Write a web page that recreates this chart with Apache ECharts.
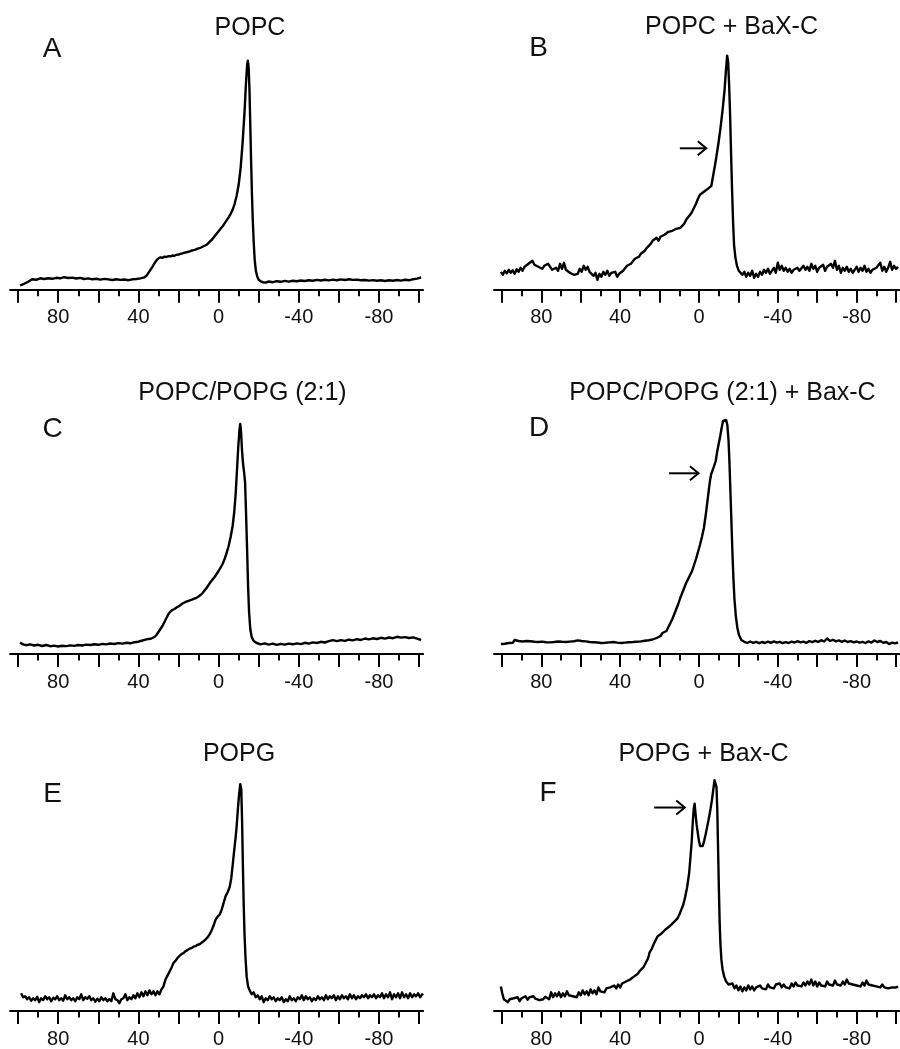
<!DOCTYPE html>
<html>
<head>
<meta charset="utf-8">
<script src="https://cdn.jsdelivr.net/npm/echarts@6.0.0/dist/echarts.min.js"></script>
<style>
  html, body { margin: 0; padding: 0; background: #fff; }
  #chart { width: 900px; height: 1049px; }
</style>
</head>
<body>
<div id="chart"></div>
<script>
// 31P NMR spectra, chemical shift (ppm) vs. intensity (arbitrary units)

const panelTitles = ['POPC', 'POPC + BaX-C', 'POPC/POPG (2:1)', 'POPC/POPG (2:1) + Bax-C', 'POPG', 'POPG + Bax-C'];
const panelLetters = ['A', 'B', 'C', 'D', 'E', 'F'];

const majorTicks = [-100, -80, -60, -40, -20, 0, 20, 40, 60, 80, 100];
const minorTicks = [-90, -70, -50, -30, -10, 10, 30, 50, 70, 90];
const tickLabels = [80, 40, 0, -40, -80];

const popc = [
  [99,4.3],[97,6],[95,8],[93,10.5],[91,10],[89,11.5],[87,10.8],[85,11.6],[83,11],[81,12],[79,11.5],[77,12.6],[75,11.8],
  [73,12.2],[71,11.3],[69,11.9],[67,10.8],[65,11.4],[63,10.5],[61,11],[59,10.2],[57,10.9],[55,10.4],[53,9.8],[51,10.6],
  [49,9.9],[47,10.3],[45,9.6],[43,10.5],[41,10.8],[39,11.4],[37,12.5],[36,14],[35,17],[34,20],[33,23],[32,26.5],[31,29.5],
  [30,31.5],[29,32.5],[28,32],[27,33.2],[26,32.8],[25,33.6],[24,33.4],[23,34.3],[22,34],[21,35],[20,35.2],[19,36],[18,36.4],
  [17,37.2],[16,37.6],[15,38],[14,38.8],[13,39.5],[12,40],[11,40.6],[10,41.5],[9,42],[8,43],[7,44],[6,45],[5,47],[4,49],
  [3,51],[2,53.5],[1,56],[0,58.5],[-1,61],[-2,63.5],[-3,66.5],[-4,69.5],[-5,72.5],[-6,76],[-7,80],[-8,86],[-9,94],[-10,105],
  [-11,122],[-12,148],[-13,180],[-13.6,205],[-14.2,224],[-14.6,229],[-15,222],[-15.4,200],[-15.8,165],[-16.2,130],[-16.6,98],
  [-17,72],[-17.5,48],[-18,30],[-18.6,19],[-19.3,13],[-20,10],[-21,8.5],[-22,7.6],[-23.5,7.2],[-25,8.3],[-27,7.6],[-29,8.6],
  [-31,8],[-33,8.9],[-35,8.2],[-37,9],[-39,8.5],[-41,9.3],[-43,8.8],[-45,9.6],[-47,9.1],[-49,9.9],[-51,9.3],[-53,10],
  [-55,9.4],[-57,10.2],[-59,9.6],[-61,10.4],[-63,9.8],[-65,10.6],[-67,9.9],[-69,10.2],[-71,9.5],[-73,9.8],[-75,9.2],[-77,9.7],
  [-79,9],[-81,9.5],[-83,8.8],[-85,9.6],[-87,9.1],[-89,9.8],[-91,9.2],[-93,10],[-95,9.5],[-97,10.6],[-99,11.2],[-101,12.4]
];

const popcBax = [
  [100.5,18],[99.5,15],[98.5,19],[97.5,16.5],[96.5,20],[95.5,17],[94.5,19.5],[93.5,16],[92.5,20.5],[91.5,18],[90.5,22],
  [89.5,19],[88.5,23],[87.5,22],[86.5,26],[85.5,24],[84.5,29],[83.5,25],[82.5,27],[81.5,23],[80.5,25],[79.5,21],[78.5,24],
  [77.5,22],[76.5,26],[75.5,23],[74.5,20],[73.5,18],[72.5,22],[71.5,19],[70.5,26],[69.5,21],[68.5,27],[67.5,20],[66.5,22],
  [65.5,17],[64.5,18],[63.5,15],[62.5,17],[61.5,16],[60.5,21],[59.5,18],[58.5,24],[57.5,20],[56.5,23],[55.5,18],[54.5,19],
  [53.5,14],[52.5,17],[51.5,10],[50.5,16],[49.5,13],[48.5,18],[47.5,15],[46.5,19],[45.5,14],[44.5,17],[43.5,15],[42.5,18],
  [41.5,13],[40.5,16],[39.5,14],[38.5,19],[37.5,21],[36.5,24],[35.5,22],[34.5,26],[33.5,27],[32.5,31],[31.5,29],[30.5,33],
  [29.5,36],[28.5,35],[27.5,39],[26.5,42],[25.5,41],[24.5,46],[23.5,49],[22.5,47],[21.5,52],[20.5,49],[19.5,53],[18.5,51],
  [17.5,55],[16.5,54],[15.5,58],[14.5,56],[13.5,59],[12.5,57],[11.5,61],[10.5,59],[9.5,62],[8.5,64],[7.5,66],[6.5,70],
  [5.5,72],[4.5,75],[3.5,78],[2.5,82],[1.5,86],[0.5,91],[-0.5,95],[-1.5,97],[-2.5,98],[-3.5,100],[-4.5,101],[-5.5,102],
  [-6.3,104],[-7,112],[-8,123],[-9,135],[-10,148],[-11,163],[-12,180],[-13,200],[-13.7,220],[-14.3,234],[-14.8,228],
  [-15.3,205],[-15.8,175],[-16.3,135],[-16.8,100],[-17.3,68],[-17.8,45],[-18.5,32],[-19.3,24],[-20.2,19],[-21,21],[-22,15],
  [-23,18],[-24,13],[-25,17],[-26,14],[-27,19],[-28,12],[-29,16],[-30,13],[-31,18],[-32,15],[-33,20],[-34,17],[-35,21],
  [-36,16],[-37,19],[-38,22],[-39,17],[-40,27],[-41,20],[-42,24],[-43,19],[-44,22],[-45,18],[-46,21],[-47,17],[-48,20],
  [-49,18],[-50,22],[-51,19],[-52,21],[-53,24],[-54,20],[-55,23],[-56,19],[-57,26],[-58,21],[-59,24],[-60,18],[-61,22],
  [-62,20],[-63,25],[-64,19],[-65,23],[-66,21],[-67,26],[-68,22],[-69,29],[-70,20],[-71,24],[-72,17],[-73,22],[-74,19],
  [-75,23],[-76,18],[-77,21],[-78,17],[-79,20],[-80,23],[-81,18],[-82,22],[-83,19],[-84,24],[-85,18],[-86,21],[-87,17],
  [-88,20],[-89,18],[-90,22],[-91,20],[-92,27],[-93,19],[-94,23],[-95,18],[-96,22],[-97,28],[-98,20],[-99,24],[-100,21],[-101,23]
];

const popcPopg = [
  [99,11.5],[98,10],[97,9.3],[96,8.8],[94,9.6],[92,8.5],[90,9.2],[88,8],[86,9],[84,7.8],[82,8.4],[80,7.5],[78,8.3],[76,7.9],
  [74,8.6],[72,8.1],[70,9],[68,8.5],[66,9.4],[64,9],[62,9.8],[60,9.2],[58,10.1],[56,9.6],[54,10.5],[52,10],[50,10.9],[48,10.4],
  [46,11.2],[44,10.7],[42,11.8],[40,12.3],[38,13.5],[36,14.6],[34,15.2],[33,16],[32,17],[31,19],[30,22],[29,25],[28,28],
  [27,32],[26,36],[25,40],[24,42.5],[23,44],[22,45],[21,46.5],[20,47.5],[19,49],[18,50.5],[17,51.5],[16,52.5],[15,53.2],
  [14,53.8],[13,54.6],[12,55.5],[11,56.2],[10,57.5],[9,59],[8,61],[7,63.5],[6,66],[5,69],[4,72],[3,74.5],[2,77],[1,80],[0,83],
  [-1,86.5],[-2,90],[-3,95],[-4,101],[-5,108],[-6,117],[-7,128],[-7.8,142],[-8.5,160],[-9.2,185],[-9.8,207],[-10.4,224],
  [-10.8,230],[-11.2,222],[-11.7,203],[-12.2,190],[-12.7,182],[-13.2,172],[-13.7,140],[-14.2,105],[-14.7,68],[-15.2,42],
  [-15.8,25],[-16.5,17],[-17.5,13],[-19,11],[-21,9.6],[-23,10.6],[-25,9.4],[-27,10.3],[-29,9.1],[-31,10.2],[-33,9.3],
  [-35,10.4],[-37,9.7],[-39,10.6],[-41,9.9],[-43,11.2],[-45,10.4],[-47,11.6],[-49,11],[-51,12.2],[-53,11.5],[-55,12.8],
  [-57,13.8],[-59,12.9],[-61,13.9],[-63,13.1],[-65,14.3],[-67,13.6],[-69,14.8],[-71,14],[-73,15.5],[-75,14.6],[-77,15.7],
  [-79,15],[-81,16.2],[-83,15.4],[-85,16.5],[-87,15.8],[-89,17.2],[-91,16.4],[-93,16.9],[-95,16],[-97,16.6],[-99,15.4],[-101,14]
];

const popcPopgBax = [
  [100.5,10],[99.5,11.5],[98.5,10.2],[97.5,12],[96.5,11],[95.5,12.6],[94.5,11.3],[93.5,14],[92.5,12],[91.5,13],[90.5,11.5],
  [89.5,12.5],[88.5,11.2],[87.5,13],[86.5,11.8],[85.5,12.8],[84.5,11],[83.5,12.2],[82.5,10.8],[81.5,12],[80.5,11.4],[79.5,12.4],
  [78.5,11],[77.5,11.8],[76.5,10.6],[75.5,11.6],[74.5,10.8],[73.5,12],[72.5,11.2],[71.5,12.5],[70.5,11.5],[69.5,12.2],[68.5,11],
  [67.5,12],[66.5,11.3],[65.5,12.4],[64.5,11.2],[63.5,12.8],[62.5,11.5],[61.5,13.6],[60.5,12],[59.5,13],[58.5,11.6],[57.5,12.6],
  [56.5,10.8],[55.5,12],[54.5,10.6],[53.5,11.8],[52.5,10.4],[51.5,11.5],[50.5,10.2],[49.5,11],[48.5,9.8],[47.5,11.2],[46.5,10.4],
  [45.5,11.6],[44.5,10.6],[43.5,12],[42.5,10.8],[41.5,11.4],[40.5,10.2],[39.5,11],[38.5,10.5],[37.5,11.4],[36.5,10.6],[35.5,11.8],
  [34.5,10.9],[33.5,12],[32.5,11.2],[31.5,12.3],[30.5,11.6],[29.5,12.6],[28.5,12.4],[27.5,13.2],[26.5,13],[25.5,13.8],[24.5,14.2],
  [23.5,14.5],[22.5,15.2],[21.5,16],[20.5,17],[19.5,18],[18.5,21],[17.5,20],[16.5,23],[15.5,27],[14.5,31],[13.5,35],[12.5,40],
  [11.5,45],[10.5,50],[9.5,56],[8.5,61],[7.5,66],[6.5,71],[5.5,75],[4.5,79],[3.5,83],[2.5,89],[1.5,95],[0.5,102],[-0.5,109],
  [-1.5,117],[-2.5,126],[-3.5,140],[-4.5,156],[-5.5,172],[-6.2,180],[-7,184],[-7.8,186],[-8.5,193],[-9.3,203],[-10,210],
  [-10.8,218],[-11.5,226],[-12.2,233],[-13,235],[-13.8,234],[-14.4,229],[-15,214],[-15.5,190],[-16,160],[-16.5,130],[-17,100],
  [-17.5,75],[-18,55],[-18.7,38],[-19.5,26],[-20.3,19],[-21.5,14],[-23,12.2],[-24.5,11],[-26,12.5],[-27.5,11.2],[-29,12.2],
  [-30.5,10.8],[-32,12],[-33.5,11],[-35,12.4],[-36.5,11.2],[-38,12.6],[-39.5,11.4],[-41,12.2],[-42.5,10.9],[-44,11.8],[-45.5,11],
  [-47,12.3],[-48.5,11.5],[-50,12.8],[-51.5,11.6],[-53,12.4],[-54.5,11.2],[-56,12.9],[-57.5,11.8],[-59,13.2],[-60.5,12.1],
  [-62,13.8],[-63.5,12.5],[-65,15.5],[-66.5,13],[-68,14.2],[-69.5,12.6],[-71,13.6],[-72.5,12.2],[-74,13.5],[-75.5,12],[-77,12.8],
  [-78.5,11.6],[-80,12.5],[-81.5,11.4],[-83,12.2],[-84.5,11],[-86,12.6],[-87.5,11.4],[-89,13.5],[-90.5,12],[-92,13],[-93.5,11.2],
  [-95,12],[-96.5,10],[-98,11.4],[-99.5,10.6],[-101,11.5]
];

const popg = [
  [98.5,18],[97.5,14],[96.5,15],[95.5,12],[94.5,14],[93.5,10.5],[92.5,13],[91.5,11],[90.5,14.5],[89.5,9],[88.5,13],[87.5,11],
  [86.5,15],[85.5,12],[84.5,14],[83.5,10],[82.5,13.5],[81.5,12],[80.5,15],[79.5,11],[78.5,13],[77.5,10.5],[76.5,16],[75.5,12],
  [74.5,14],[73.5,11],[72.5,13],[71.5,10],[70.5,14],[69.5,12],[68.5,17],[67.5,11],[66.5,14],[65.5,12.5],[64.5,15],[63.5,11],
  [62.5,13],[61.5,9.5],[60.5,12.5],[59.5,10],[58.5,14],[57.5,11],[56.5,13],[55.5,10],[54.5,12],[53.5,10],[52.5,18],[51.5,12],
  [50.5,11],[49.5,8],[48.5,12],[47.5,13],[46.5,17],[45.5,11],[44.5,14],[43.5,12],[42.5,16],[41.5,13],[40.5,18],[39.5,14],
  [38.5,19],[37.5,15],[36.5,20],[35.5,16],[34.5,21],[33.5,17],[32.5,20],[31.5,16],[30.5,20],[29.5,17],[28.5,22],[27.5,25],
  [26.5,32],[25.5,36],[24.5,40],[23.5,44],[22.5,49],[21.5,51],[20.5,54],[19.5,56],[18.5,58],[17.5,59],[16.5,61],[15.5,62],
  [14.5,63.5],[13.5,64],[12.5,65.5],[11.5,66],[10.5,67.5],[9.5,68],[8.5,69.5],[7.5,71],[6.5,73],[5.5,75],[4.5,78],[3.5,82],
  [2.5,87],[1.5,93],[0.5,96],[-0.5,98],[-1.5,103],[-2.5,110],[-3.5,117],[-4.5,121],[-5.5,126],[-6.3,135],[-7,148],[-7.7,162],
  [-8.4,175],[-9,188],[-9.6,205],[-10.2,220],[-10.8,231],[-11.3,226],[-11.7,195],[-12.1,150],[-12.5,110],[-12.9,80],[-13.4,55],
  [-14,35],[-14.7,25],[-15.5,21],[-16.5,17],[-17.5,19],[-18.5,14],[-19.5,16],[-20.5,12],[-21.5,15],[-22.5,9],[-23.5,13],
  [-24.5,11],[-25.5,15],[-26.5,12],[-27.5,14],[-28.5,10],[-29.5,13],[-30.5,11],[-31.5,14],[-32.5,9],[-33.5,12],[-34.5,10],
  [-35.5,15],[-36.5,11],[-37.5,13],[-38.5,10],[-39.5,14],[-40.5,12],[-41.5,16],[-42.5,11],[-43.5,15],[-44.5,12],[-45.5,14],
  [-46.5,10],[-47.5,13],[-48.5,11],[-49.5,15],[-50.5,12],[-51.5,14],[-52.5,11],[-53.5,16],[-54.5,12],[-55.5,15],[-56.5,13],
  [-57.5,16],[-58.5,11],[-59.5,15],[-60.5,12],[-61.5,16],[-62.5,13],[-63.5,15],[-64.5,12],[-65.5,17],[-66.5,13],[-67.5,16],
  [-68.5,12],[-69.5,15],[-70.5,13],[-71.5,16],[-72.5,14],[-73.5,17],[-74.5,13],[-75.5,16],[-76.5,14],[-77.5,17],[-78.5,13],
  [-79.5,16],[-80.5,14],[-81.5,18],[-82.5,13],[-83.5,17],[-84.5,14],[-85.5,19],[-86.5,12],[-87.5,17],[-88.5,14],[-89.5,18],
  [-90.5,13],[-91.5,19],[-92.5,14],[-93.5,17],[-94.5,13],[-95.5,18],[-96.5,14],[-97.5,17],[-98.5,15],[-99.5,18],[-100.5,14],
  [-101.5,17],[-102,16]
];

const popgBax = [
  [100.5,25],[99.8,18],[99,12],[98,10],[97,9],[96,12],[95,10],[94,13],[93,11],[92,14],[91,10],[90,13],[89,12],[88,15],[87,11.5],
  [86,14],[85,12],[84,15],[83,12.5],[82,14],[81,11],[80,13],[79,12],[78,14.5],[77,13],[76,12],[75,19],[74,14],[73,18],[72,15],
  [71,19],[70,14],[69,18],[68,15],[67,20],[66,16],[65,18],[64,15],[63,17],[62,14],[61,19],[60,16],[59,21],[58,17],[57,20],[56,16],
  [55,22],[54,18],[53,21],[52,17],[51,24],[50,20],[49,22],[48,19],[47,23],[46,21],[45,24],[44,22],[43,26],[42,23],[41,27],
  [40,24],[39,28],[38,26],[37,30],[36,28],[35,32],[34,31],[33,35],[32,37],[31,38],[30,41],[29,42],[28,45],[27,46],[26,53],
  [25.5,56],[25,60],[24,63],[23,68],[22,72],[21,76],[20,77],[19,79],[18,81],[17,83],[16,85],[15,86],[14,88],[13,90],[12,92],
  [11,94],[10,98],[9,103],[8,108],[7,116],[6,126],[5,140],[4.3,157],[3.7,172],[3.2,190],[2.7,205],[2.2,211],[1.7,200],[1.2,190],
  [0.5,180],[0,173],[-0.6,168],[-1.2,166],[-1.9,168],[-2.6,173],[-3.4,180],[-4.2,188],[-5,196],[-5.8,205],[-6.6,215],[-7.3,226],
  [-7.9,235],[-8.4,237],[-8.9,228],[-9.3,205],[-9.7,165],[-10.1,125],[-10.5,90],[-10.9,68],[-11.4,52],[-12,42],[-12.8,35],
  [-13.8,30],[-15,27],[-16,25],[-17,28],[-18,23],[-19,26],[-20,21],[-21,25],[-22,20],[-23,24],[-24,21],[-25,26],[-26,22],[-27,25],
  [-28,21],[-29,24],[-30,22],[-31,26],[-32,23],[-33,25],[-34,22],[-35,27],[-36,24],[-37,26],[-38,23],[-39,27],[-40,25],[-41,28],
  [-42,24],[-43,27],[-44,24],[-45,26],[-46,23],[-47,28],[-48,25],[-49,29],[-50,26],[-51,28],[-52,25],[-53,29],[-54,26],[-55,30],
  [-56,27],[-57,32],[-58,26],[-59,30],[-60,25],[-61,29],[-62,26],[-63,28],[-64,25],[-65,30],[-66,27],[-67,29],[-68,26],[-69,31],
  [-70,27],[-71,29],[-72,26],[-73,30],[-74,27],[-75,32],[-76,28],[-77,30],[-78,27],[-79,29],[-80,26],[-81,28],[-82,25],[-83,29],
  [-84,26],[-85,31],[-86,27],[-87,29],[-88,26],[-89,28],[-90,25],[-91,27],[-92,24],[-93,27],[-94,24],[-95,26],[-96,23],[-97,25],
  [-98,24],[-99,26],[-100,24],[-101,25]
];

const spectra = [popc, popcBax, popcPopg, popcPopgBax, popg, popgBax];

// Arrows marking the new shoulder/peak: start and end in (ppm, intensity)
const arrowPanels = [1, 3, 5];
const arrowFrom = [[9.7, 141.5], [15.2, 180.7], [22.7, 207.2]];
const arrowTo = [[-3.7, 141.5], [0.25, 180.7], [7.2, 207.2]];

// ---- layout of the 3 x 2 panel grid (pixels) ----
const PX_PER_PPM = 2.005;
const X_MIN = -102, X_MAX = 104, Y_MAX = 250;
const layout = [
  { zeroX: 218.6, axisY: 289.8,  titleX: 250,   titleY: 28,    letterX: 52,    letterY: 49 },
  { zeroX: 702.5, axisY: 289.8,  titleX: 731.5, titleY: 27.5,  letterX: 538.5, letterY: 48.5 },
  { zeroX: 218.6, axisY: 654,    titleX: 242.5, titleY: 393.5, letterX: 52.5,  letterY: 429.5 },
  { zeroX: 702.5, axisY: 654,    titleX: 722.5, titleY: 393.5, letterX: 539,   letterY: 428.5 },
  { zeroX: 218.6, axisY: 1015.5, titleX: 239,   titleY: 754.5, letterX: 52.5,  letterY: 794 },
  { zeroX: 702.5, axisY: 1015.5, titleX: 703.5, titleY: 754,   letterX: 548,   letterY: 793 }
];

const FONT = '"Liberation Sans", Arial, Helvetica, sans-serif';
const INK = '#000';

const grids = [], xAxes = [], yAxes = [], series = [], texts = [];

layout.forEach((p, k) => {
  grids.push({
    left: p.zeroX - X_MAX * PX_PER_PPM,
    top: p.axisY - Y_MAX,
    width: (X_MAX - X_MIN) * PX_PER_PPM,
    height: Y_MAX,
    containLabel: false
  });
  // main axis: line, long ticks every 20 ppm, labels every 40 ppm
  xAxes.push({
    type: 'value', gridIndex: k, position: 'bottom', inverse: true,
    min: X_MIN, max: X_MAX,
    axisLine: { show: true, onZero: false, lineStyle: { color: INK, width: 2 } },
    axisTick: { show: true, length: 13, customValues: majorTicks, lineStyle: { color: INK, width: 2 } },
    axisLabel: { show: true, customValues: tickLabels, margin: 18, fontSize: 20, color: '#111', fontFamily: FONT },
    splitLine: { show: false }
  });
  // companion axis carrying the short 10 ppm ticks
  xAxes.push({
    type: 'value', gridIndex: k, position: 'bottom', inverse: true,
    min: X_MIN, max: X_MAX,
    axisLine: { show: false, onZero: false },
    axisTick: { show: true, length: 6.5, customValues: minorTicks, lineStyle: { color: INK, width: 2 } },
    axisLabel: { show: false },
    splitLine: { show: false }
  });
  yAxes.push({ type: 'value', gridIndex: k, min: 0, max: Y_MAX, show: false });
  series.push({
    type: 'line', xAxisIndex: 2 * k, yAxisIndex: k,
    data: spectra[k], showSymbol: false, smooth: false, clip: false,
    lineStyle: { color: INK, width: 2.4, join: 'round' }, silent: true
  });
  texts.push({
    type: 'text', x: p.titleX, y: p.titleY, silent: true,
    style: { text: panelTitles[k], font: '25px ' + FONT, fill: '#111',
             align: 'center', verticalAlign: 'middle', textAlign: 'center', textVerticalAlign: 'middle' }
  });
  texts.push({
    type: 'text', x: p.letterX, y: p.letterY, silent: true,
    style: { text: panelLetters[k], font: '28px ' + FONT, fill: '#111',
             align: 'center', verticalAlign: 'middle', textAlign: 'center', textVerticalAlign: 'middle' }
  });
});

const chart = echarts.init(document.getElementById('chart'), null, { renderer: 'canvas' });
chart.setOption({
  backgroundColor: '#fff',
  animation: false,
  grid: grids,
  xAxis: xAxes,
  yAxis: yAxes,
  series: series,
  graphic: texts
});

// arrows, placed through the panel's own axes
const arrows = [];
arrowPanels.forEach((k, i) => {
  const a = chart.convertToPixel({ seriesIndex: k }, arrowFrom[i]);
  const b = chart.convertToPixel({ seriesIndex: k }, arrowTo[i]);
  arrows.push({
    type: 'polyline', silent: true,
    shape: { points: [a, b] },
    style: { stroke: INK, lineWidth: 2, fill: null }
  });
  arrows.push({
    type: 'polyline', silent: true,
    shape: { points: [[b[0] - 8.5, b[1] - 7], b, [b[0] - 8.5, b[1] + 7]] },
    style: { stroke: INK, lineWidth: 2, fill: null, lineJoin: 'miter' }
  });
});
chart.setOption({ graphic: texts.concat(arrows) });
</script>
</body>
</html>
